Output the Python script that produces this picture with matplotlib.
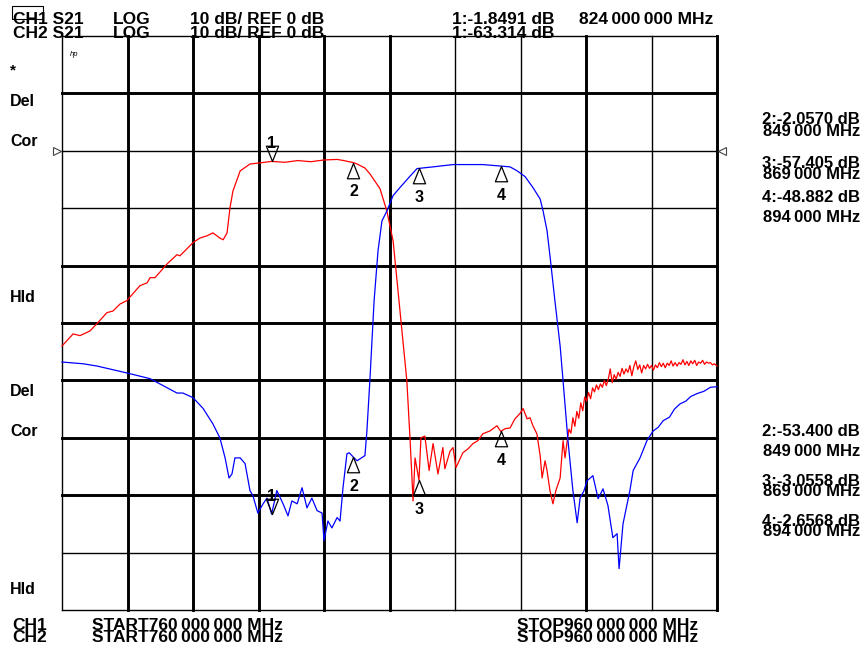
import matplotlib
matplotlib.use("Agg")
import matplotlib.pyplot as plt
from matplotlib.path import Path
from matplotlib.patches import Rectangle

# ---------------- data ----------------
ch1_freq = [760.0, 763.4, 765.5, 768.5, 770.7, 773.7, 775.6, 777.7, 779.8, 783.8, 786.0, 786.9,
            788.4, 792.1, 795.1, 796.0, 800.0, 802.1, 804.3, 806.1, 808.2, 809.2, 810.4, 811.3,
            812.2, 814.4, 817.4, 820.5, 824.0, 828.0, 832.0, 836.0, 840.0, 844.0, 846.0, 849.0,
            850.1, 852.5, 854.0, 857.1, 859.2, 861.1, 862.3, 864.1, 865.3, 866.3, 867.2,
            867.8, 869.0, 869.6, 870.8, 872.1, 873.3, 874.8, 876.3, 876.9, 878.5, 879.4, 880.3,
            882.4, 884.0, 885.5, 887.0, 888.5, 890.7, 892.8, 894.0, 895.3, 896.8, 898.3, 899.8,
            900.8, 902.0, 902.9, 903.8, 905.0, 906.0, 906.6, 907.5, 908.1, 909.0, 909.9, 910.8,
            912.1, 913.0, 913.6, 914.2, 914.8, 915.4, 916.0, 916.6, 917.2, 917.8, 918.4, 919.0,
            919.6, 920.2, 920.8, 921.4, 922.0, 922.6, 923.2, 923.8, 924.4, 925.0, 925.6, 926.2,
            926.8, 927.4, 928.0, 928.6, 929.2, 929.8, 930.4, 931.0, 931.6, 932.2, 932.8, 933.4,
            934.0, 934.6, 935.2, 935.8, 936.4, 937.0, 937.6, 938.2, 938.8, 939.4, 940.0, 940.6,
            941.2, 941.8, 942.4, 943.0, 943.6, 944.2, 944.8, 945.4, 946.0, 946.6, 947.2, 947.8,
            948.4, 949.0, 949.6, 950.2, 950.8, 951.4, 952.0, 952.6, 953.2, 953.8, 954.4, 955.0,
            955.6, 956.2, 956.8, 957.4, 958.0, 958.6, 959.2, 960.0]
ch1_db = [-34.0, -31.9, -32.2, -31.4, -30.1, -28.2, -27.9, -26.7, -26.1, -23.5, -23.0, -22.1,
          -22.1, -19.7, -18.1, -18.3, -16.0, -15.2, -14.8, -14.3, -15.2, -15.5, -14.3, -9.9,
          -7.0, -3.5, -2.3, -2.1, -1.85, -2.0, -1.7, -1.9, -1.6, -1.5, -1.7, -2.06,
          -2.3, -3.0, -4.0, -6.6, -10.5, -15.7, -22.6, -33.1, -40.1, -50.5, -61.0,
          -53.5, -57.4, -50.0, -49.7, -55.7, -51.0, -56.3, -51.7, -55.4, -52.3, -51.7, -55.2,
          -52.6, -51.9, -51.0, -50.5, -49.3, -48.8, -47.9, -48.9, -48.4, -48.3, -46.7, -45.8,
          -44.9, -46.7, -46.5, -47.9, -49.3, -53.1, -57.0, -54.0, -55.7, -59.2, -61.5, -59.2,
          -57.0, -50.5, -53.5, -50.8, -48.5, -49.2, -46.5, -48.0, -45.4, -46.6, -43.9, -45.3,
          -42.9, -43.6, -42.1, -43.2, -41.3, -42.0, -40.8, -41.6, -40.6, -41.2, -40.0, -40.9,
          -39.8, -38.0, -40.4, -39.0, -39.8, -38.6, -39.3, -37.9, -38.9, -38.0, -38.6, -37.4,
          -39.2, -37.6, -36.6, -38.1, -37.3, -38.7, -37.4, -38.0, -37.2, -37.9, -37.4, -38.2,
          -37.3, -37.8, -36.9, -37.6, -37.0, -37.8, -37.0, -37.4, -36.6, -37.5, -36.9, -37.5,
          -36.9, -37.2, -36.4, -37.3, -36.7, -37.4, -36.6, -37.1, -36.5, -37.4, -36.8, -37.0,
          -36.5, -37.2, -36.8, -37.0, -36.9, -37.3, -37.1, -37.5]

ch2_freq = [760.0, 766.4, 770.7, 779.8, 786.9, 795.1, 796.9, 800.0, 803.1, 806.1, 808.2, 809.8,
            811.0, 811.9, 812.8, 814.4, 815.9, 817.4, 818.3, 819.8, 821.4, 822.6, 824.0, 825.6,
            827.5, 829.0, 830.2, 831.8, 833.3, 834.8, 836.3, 837.9, 839.4, 840.0, 841.2, 842.4,
            844.0, 844.9, 845.8, 847.0, 847.7, 849.0, 850.1, 852.5, 853.1, 854.0, 855.3, 856.5,
            857.7, 859.2, 861.1, 863.2, 866.3, 868.4, 869.0, 873.3, 879.4, 884.6, 888.5, 894.0,
            896.8, 899.0, 901.4, 903.8, 906.0, 906.9, 908.1, 909.0, 910.5, 912.1, 913.0, 914.5,
            916.0, 917.3, 918.2, 919.4, 920.3, 922.1, 923.7, 925.2, 926.7, 928.2, 929.5, 930.1,
            931.3, 933.4, 934.4, 936.5, 938.6, 940.5, 942.0, 943.6, 945.5, 947.0, 948.7, 950.5,
            952.0, 953.9, 956.0, 958.0, 960.0]
ch2_db = [-36.8, -37.1, -37.5, -38.7, -39.7, -42.2, -42.2, -43.0, -44.9, -47.6, -50.0, -53.5,
          -57.0, -56.3, -53.5, -53.5, -54.5, -59.2, -60.1, -63.1, -61.5, -60.5, -63.3, -59.2,
          -61.5, -63.6, -61.0, -61.5, -58.7, -62.2, -60.5, -62.7, -63.1, -67.9, -64.5, -65.7,
          -63.9, -64.5, -58.7, -52.8, -52.6, -53.4, -54.0, -53.1, -48.8, -40.1, -26.1, -17.4,
          -12.2, -10.5, -7.8, -6.4, -4.4, -3.1, -3.06, -2.8, -2.4, -2.4, -2.4, -2.66,
          -2.8, -3.5, -4.5, -6.4, -8.4, -10.5, -13.9, -18.3, -26.1, -34.0, -40.1, -50.5,
          -59.2, -64.8, -60.5, -59.2, -57.5, -56.6, -60.6, -58.9, -61.8, -67.4, -66.7, -72.8,
          -65.0, -59.2, -55.7, -53.5, -50.5, -48.8, -48.2, -47.0, -46.4, -45.0, -44.1, -43.6,
          -42.8, -42.3, -41.9, -41.2, -41.1]

marker_freq = [824, 849, 869, 894]
marker_ch1 = [-1.8491, -2.0570, -57.405, -48.882]
marker_ch2 = [-63.314, -53.400, -3.0558, -2.6568]
marker_ch1_text = ["1:-1.8491 dB", "2:-2.0570 dB", "3:-57.405 dB", "4:-48.882 dB"]
marker_ch2_text = ["1:-63.314 dB", "2:-53.400 dB", "3:-3.0558 dB", "4:-2.6568 dB"]
marker_freq_text = ["824\u2009000\u2009000 MHz", "849\u2009000 MHz", "869\u2009000 MHz", "894\u2009000 MHz"]

freq_grid = [760, 780, 800, 820, 840, 860, 880, 900, 920, 940, 960]
db_grid = [20, 10, 0, -10, -20, -30, -40, -50, -60, -70, -80]

# ---------------- figure ----------------
W, H = 868, 650
fig = plt.figure(figsize=(W / 100, H / 100), dpi=100)
fig.patch.set_facecolor("white")
ax = fig.add_axes([62 / W, 1 - 610 / H, 655 / W, 574 / H])
ax.set_xlim(760, 960)
ax.set_ylim(-80, 20)
ax.axis("off")

FAM = ["Liberation Sans", "DejaVu Sans"]
THICK, THIN = 2.1, 1.0
vlw = [THIN, THICK, THICK, THICK, THICK, THICK, THIN, THIN, THICK, THIN, THICK]
hlw = [THIN, THICK, THIN, THIN, THICK, THICK, THICK, THICK, THICK, THIN, THIN]
for f, lw in zip(freq_grid, vlw):
    ax.axvline(f, color="black", lw=lw, clip_on=False, zorder=1)
for d, lw in zip(db_grid, hlw):
    ax.axhline(d, color="black", lw=lw, clip_on=False, zorder=1)

ax.plot(ch1_freq, ch1_db, color="#ff0000", lw=0.9, zorder=3, clip_on=False)
ax.plot(ch2_freq, ch2_db, color="#0000ff", lw=0.9, zorder=3, clip_on=False)

# marker symbols: apex at the trace point
up_tri = Path([(0, 0), (-0.4, -1), (0.4, -1), (0, 0)],
              [Path.MOVETO, Path.LINETO, Path.LINETO, Path.CLOSEPOLY])
down_tri = Path([(0, 0), (-0.4, 1), (0.4, 1), (0, 0)],
                [Path.MOVETO, Path.LINETO, Path.LINETO, Path.CLOSEPOLY])

for vals in (marker_ch1, marker_ch2):
    for i, (f, v) in enumerate(zip(marker_freq, vals)):
        if i == 0:
            ax.plot([f], [v], marker=down_tri, ms=22, mfc="none", mec="black",
                    mew=0.9, ls="none", zorder=5, clip_on=False)
            ax.annotate(str(i + 1), xy=(f, v), xytext=(0, 13), textcoords="offset points",
                        ha="center", va="center", fontsize=11.5, fontweight="bold",
                        family=FAM, zorder=6)
        else:
            ax.plot([f], [v], marker=up_tri, ms=22, mfc="none", mec="black",
                    mew=0.9, ls="none", zorder=5, clip_on=False)
            ax.annotate(str(i + 1), xy=(f, v), xytext=(0, -21), textcoords="offset points",
                        ha="center", va="center", fontsize=11.5, fontweight="bold",
                        family=FAM, zorder=6)

# reference position arrows at 0 dB (just outside the grid)
ax.plot([758.4], [0], marker=">", ms=6, mfc="none", mec="#444444", mew=0.8,
        clip_on=False, ls="none")
ax.plot([961.6], [0], marker="<", ms=6, mfc="none", mec="#444444", mew=0.8,
        clip_on=False, ls="none")


def ftext(x, y, s, size=12.5, ha="left", **kw):
    fig.text(x / W, 1 - y / H, s, ha=ha, va="center", fontsize=size,
             fontweight="bold", family=FAM, **kw)


# header
ftext(13, 20, "CH1 S21")
ftext(13, 33, "CH2 S21")
ftext(113, 20, "LOG")
ftext(113, 33, "LOG")
ftext(190, 20, "10 dB/ REF 0 dB")
ftext(190, 33, "10 dB/ REF 0 dB")
ftext(452, 20, marker_ch1_text[0])
ftext(452, 33, marker_ch2_text[0])
ftext(579, 20, marker_freq_text[0])
fig.patches.append(Rectangle((12 / W, 1 - 19 / H), 31 / W, 13 / H, transform=fig.transFigure,
                             fill=False, ec="black", lw=0.8))
fig.text(70 / W, 1 - 55 / H, "hp", fontsize=5.5, style="italic", family=FAM,
         ha="left", va="center")

# left status labels
ftext(10, 70, "*", size=11)
ftext(10, 102, "Del", size=11.5)
ftext(10, 142, "Cor", size=11.5)
ftext(10, 298, "Hld", size=11.5)
ftext(10, 391, "Del", size=11.5)
ftext(10, 432, "Cor", size=11.5)
ftext(10, 590, "Hld", size=11.5)

# right marker readouts
rx = 860
ys_ch1 = [(120, 131), (164, 175), (198, 218)]
ys_ch2 = [(432, 451), (482, 492), (522, 532)]
for k in range(1, 4):
    ftext(rx, ys_ch1[k - 1][0], marker_ch1_text[k], size=12, ha="right")
    ftext(rx, ys_ch1[k - 1][1], marker_freq_text[k], size=12, ha="right")
    ftext(rx, ys_ch2[k - 1][0], marker_ch2_text[k], size=12, ha="right")
    ftext(rx, ys_ch2[k - 1][1], marker_freq_text[k], size=12, ha="right")

# footer
ftext(12, 626, "CH1")
ftext(12, 638, "CH2")
ftext(92, 626, "START760\u2009000\u2009000 MHz")
ftext(92, 638, "START760\u2009000\u2009000 MHz")
ftext(517, 626, "STOP960\u2009000\u2009000 MHz")
ftext(517, 638, "STOP960\u2009000\u2009000 MHz")

fig.savefig("out.png", dpi=100, facecolor="white")
